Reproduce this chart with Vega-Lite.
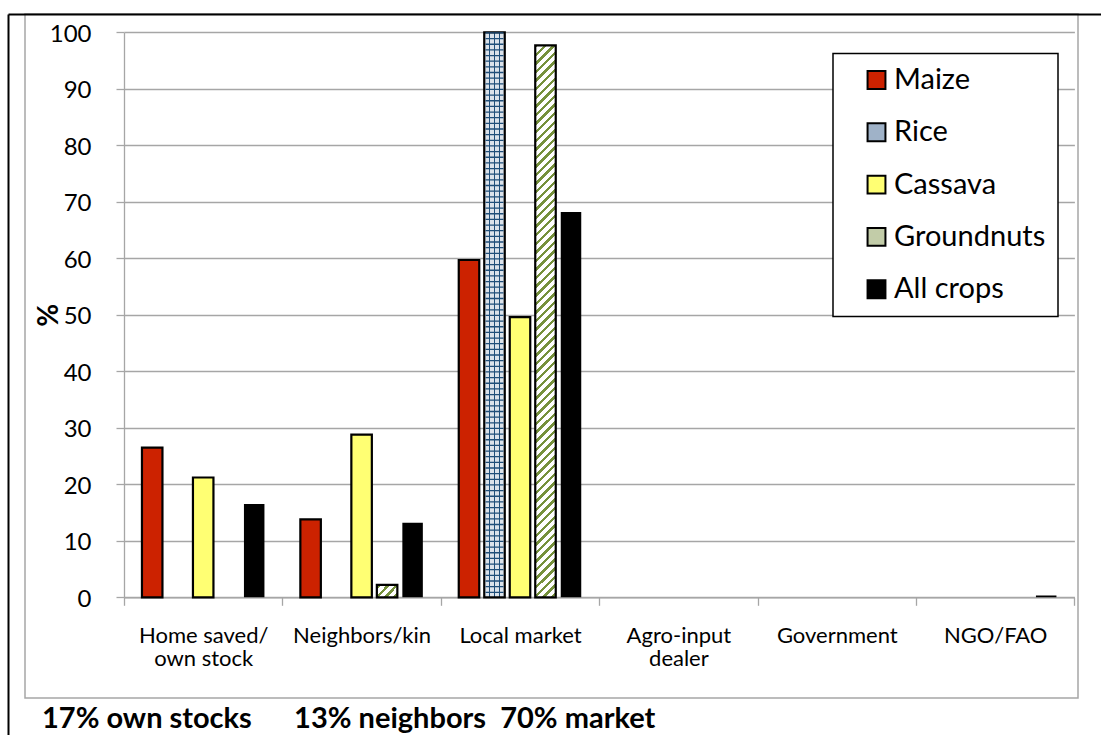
{
  "$schema": "https://vega.github.io/schema/vega-lite/v6.json",
  "width": 1053,
  "height": 684,
  "autosize": {"type": "none"},
  "padding": {"left": 25, "top": 14, "right": 23, "bottom": 37},
  "background": "white",
  "title": {
    "text": "17% own stocks\u00a0\u00a0\u00a0\u00a0\u00a0 13% neighbors\u00a0 70% market",
    "orient": "bottom",
    "anchor": "start",
    "frame": "group",
    "dx": 17,
    "offset": -33,
    "font": "Lato",
    "fontSize": 29,
    "fontWeight": "bold",
    "color": "black"
  },
  "data": {
    "values": [
      {"source": "Home saved/ own stock", "crop": "Maize", "pct": 26.5},
      {"source": "Home saved/ own stock", "crop": "Cassava", "pct": 21.2},
      {"source": "Home saved/ own stock", "crop": "All crops", "pct": 16.5},
      {"source": "Neighbors/kin", "crop": "Maize", "pct": 13.8},
      {"source": "Neighbors/kin", "crop": "Cassava", "pct": 28.8},
      {"source": "Neighbors/kin", "crop": "Groundnuts", "pct": 2.2},
      {"source": "Neighbors/kin", "crop": "All crops", "pct": 13.2},
      {"source": "Local market", "crop": "Maize", "pct": 59.7},
      {"source": "Local market", "crop": "Rice", "pct": 100},
      {"source": "Local market", "crop": "Cassava", "pct": 49.6},
      {"source": "Local market", "crop": "Groundnuts", "pct": 97.7},
      {"source": "Local market", "crop": "All crops", "pct": 68.2},
      {"source": "NGO/FAO", "crop": "All crops", "pct": 0.3}
    ]
  },
  "layer": [
    {
      "encoding": {
        "x": {
          "field": "source",
          "type": "nominal",
          "sort": null,
          "scale": {
            "domain": ["Home saved/ own stock", "Neighbors/kin", "Local market", "Agro-input dealer", "Government", "NGO/FAO"],
            "range": [99, 1049.4],
            "paddingInner": 0,
            "paddingOuter": 0
          },
          "axis": {
            "title": null,
            "offset": -100.7,
            "labelAngle": 0,
            "labelFont": "Lato",
            "labelFontSize": 22,
            "labelLineHeight": 23,
            "labelColor": "black",
            "labelPadding": 20,
            "labelLimit": 300,
            "tickBand": "extent",
            "tickSize": 8,
            "tickColor": "#a6a6a6",
            "tickWidth": 1.3,
            "domainColor": "#a6a6a6",
            "domainWidth": 1.3,
            "labelExpr": "datum.value === 'Home saved/ own stock' ? ['Home saved/', 'own stock'] : datum.value === 'Agro-input dealer' ? ['Agro-input', 'dealer'] : datum.label"
          }
        },
        "xOffset": {
          "field": "crop",
          "type": "nominal",
          "scale": {
            "domain": ["Maize", "Rice", "Cassava", "Groundnuts", "All crops"],
            "paddingInner": 0.196,
            "paddingOuter": 0.704
          }
        },
        "y": {
          "field": "pct",
          "type": "quantitative",
          "scale": {"domain": [0, 100], "range": [583.3, 18.3], "nice": false},
          "axis": {
            "title": "%",
            "titleFont": "Lato",
            "titleFontSize": 28,
            "titleFontWeight": "bold",
            "titleColor": "black",
            "titlePadding": -14,
            "offset": -99,
            "values": [0, 10, 20, 30, 40, 50, 60, 70, 80, 90, 100],
            "labelFont": "Lato",
            "labelFontSize": 24,
            "labelColor": "black",
            "labelPadding": 25,
            "labelOffset": 2,
            "tickSize": 8,
            "tickColor": "#a6a6a6",
            "tickWidth": 1.3,
            "domainColor": "#a6a6a6",
            "domainWidth": 1.3,
            "grid": true,
            "gridColor": "#a6a6a6",
            "gridWidth": 1.3
          }
        }
      },
      "layer": [
        {
          "mark": {"type": "bar", "strokeWidth": 2.2},
          "encoding": {
            "fill": {
              "field": "crop",
              "type": "nominal",
              "scale": {
                "domain": ["Maize", "Rice", "Cassava", "Groundnuts", "All crops"],
                "range": ["#cc2200", "#9fb2c8", "#ffff73", "#c2cca8", "#000000"]
              },
              "legend": {
                "title": null,
                "orient": "none",
                "legendX": 808,
                "legendY": 39.5,
                "symbolType": "square",
                "symbolSize": 320,
                "labelFont": "Lato",
                "labelFontSize": 29,
                "labelColor": "black",
                "labelOffset": 3,
                "labelExpr": "datum.label + '\u2003'",
                "rowPadding": 22.3,
                "padding": 12,
                "symbolOffset": 17,
                "strokeColor": "black",
                "fillColor": "white",
                "encoding": {
                  "symbols": {
                    "stroke": {"value": "black"},
                    "strokeWidth": {"value": 2}
                  }
                }
              },
              "condition": [
                {
                  "test": "datum.crop === 'Groundnuts' && datum.pct > 50",
                  "value": {"gradient": "linear", "x1": 0, "y1": 0, "x2": 0.0384, "y2": 1.0357, "stops": [
                    {"offset": 0, "color": "#76913c"}, {"offset": 0.006, "color": "#76913c"}, {"offset": 0.006, "color": "#ffffff"}, {"offset": 0.015, "color": "#ffffff"},
                    {"offset": 0.015, "color": "#76913c"}, {"offset": 0.021, "color": "#76913c"}, {"offset": 0.021, "color": "#ffffff"}, {"offset": 0.03, "color": "#ffffff"},
                    {"offset": 0.03, "color": "#76913c"}, {"offset": 0.036, "color": "#76913c"}, {"offset": 0.036, "color": "#ffffff"}, {"offset": 0.045, "color": "#ffffff"},
                    {"offset": 0.045, "color": "#76913c"}, {"offset": 0.051, "color": "#76913c"}, {"offset": 0.051, "color": "#ffffff"}, {"offset": 0.06, "color": "#ffffff"},
                    {"offset": 0.06, "color": "#76913c"}, {"offset": 0.066, "color": "#76913c"}, {"offset": 0.066, "color": "#ffffff"}, {"offset": 0.075, "color": "#ffffff"},
                    {"offset": 0.075, "color": "#76913c"}, {"offset": 0.081, "color": "#76913c"}, {"offset": 0.081, "color": "#ffffff"}, {"offset": 0.09, "color": "#ffffff"},
                    {"offset": 0.09, "color": "#76913c"}, {"offset": 0.096, "color": "#76913c"}, {"offset": 0.096, "color": "#ffffff"}, {"offset": 0.105, "color": "#ffffff"},
                    {"offset": 0.105, "color": "#76913c"}, {"offset": 0.111, "color": "#76913c"}, {"offset": 0.111, "color": "#ffffff"}, {"offset": 0.12, "color": "#ffffff"},
                    {"offset": 0.12, "color": "#76913c"}, {"offset": 0.126, "color": "#76913c"}, {"offset": 0.126, "color": "#ffffff"}, {"offset": 0.135, "color": "#ffffff"},
                    {"offset": 0.135, "color": "#76913c"}, {"offset": 0.141, "color": "#76913c"}, {"offset": 0.141, "color": "#ffffff"}, {"offset": 0.15, "color": "#ffffff"},
                    {"offset": 0.15, "color": "#76913c"}, {"offset": 0.156, "color": "#76913c"}, {"offset": 0.156, "color": "#ffffff"}, {"offset": 0.165, "color": "#ffffff"},
                    {"offset": 0.165, "color": "#76913c"}, {"offset": 0.171, "color": "#76913c"}, {"offset": 0.171, "color": "#ffffff"}, {"offset": 0.18, "color": "#ffffff"},
                    {"offset": 0.18, "color": "#76913c"}, {"offset": 0.186, "color": "#76913c"}, {"offset": 0.186, "color": "#ffffff"}, {"offset": 0.195, "color": "#ffffff"},
                    {"offset": 0.195, "color": "#76913c"}, {"offset": 0.201, "color": "#76913c"}, {"offset": 0.201, "color": "#ffffff"}, {"offset": 0.21, "color": "#ffffff"},
                    {"offset": 0.21, "color": "#76913c"}, {"offset": 0.216, "color": "#76913c"}, {"offset": 0.216, "color": "#ffffff"}, {"offset": 0.225, "color": "#ffffff"},
                    {"offset": 0.225, "color": "#76913c"}, {"offset": 0.231, "color": "#76913c"}, {"offset": 0.231, "color": "#ffffff"}, {"offset": 0.24, "color": "#ffffff"},
                    {"offset": 0.24, "color": "#76913c"}, {"offset": 0.246, "color": "#76913c"}, {"offset": 0.246, "color": "#ffffff"}, {"offset": 0.255, "color": "#ffffff"},
                    {"offset": 0.255, "color": "#76913c"}, {"offset": 0.261, "color": "#76913c"}, {"offset": 0.261, "color": "#ffffff"}, {"offset": 0.27, "color": "#ffffff"},
                    {"offset": 0.27, "color": "#76913c"}, {"offset": 0.276, "color": "#76913c"}, {"offset": 0.276, "color": "#ffffff"}, {"offset": 0.285, "color": "#ffffff"},
                    {"offset": 0.285, "color": "#76913c"}, {"offset": 0.291, "color": "#76913c"}, {"offset": 0.291, "color": "#ffffff"}, {"offset": 0.3, "color": "#ffffff"},
                    {"offset": 0.3, "color": "#76913c"}, {"offset": 0.306, "color": "#76913c"}, {"offset": 0.306, "color": "#ffffff"}, {"offset": 0.315, "color": "#ffffff"},
                    {"offset": 0.315, "color": "#76913c"}, {"offset": 0.321, "color": "#76913c"}, {"offset": 0.321, "color": "#ffffff"}, {"offset": 0.33, "color": "#ffffff"},
                    {"offset": 0.33, "color": "#76913c"}, {"offset": 0.336, "color": "#76913c"}, {"offset": 0.336, "color": "#ffffff"}, {"offset": 0.345, "color": "#ffffff"},
                    {"offset": 0.345, "color": "#76913c"}, {"offset": 0.351, "color": "#76913c"}, {"offset": 0.351, "color": "#ffffff"}, {"offset": 0.36, "color": "#ffffff"},
                    {"offset": 0.36, "color": "#76913c"}, {"offset": 0.366, "color": "#76913c"}, {"offset": 0.366, "color": "#ffffff"}, {"offset": 0.375, "color": "#ffffff"},
                    {"offset": 0.375, "color": "#76913c"}, {"offset": 0.381, "color": "#76913c"}, {"offset": 0.381, "color": "#ffffff"}, {"offset": 0.39, "color": "#ffffff"},
                    {"offset": 0.39, "color": "#76913c"}, {"offset": 0.396, "color": "#76913c"}, {"offset": 0.396, "color": "#ffffff"}, {"offset": 0.405, "color": "#ffffff"},
                    {"offset": 0.405, "color": "#76913c"}, {"offset": 0.411, "color": "#76913c"}, {"offset": 0.411, "color": "#ffffff"}, {"offset": 0.42, "color": "#ffffff"},
                    {"offset": 0.42, "color": "#76913c"}, {"offset": 0.426, "color": "#76913c"}, {"offset": 0.426, "color": "#ffffff"}, {"offset": 0.435, "color": "#ffffff"},
                    {"offset": 0.435, "color": "#76913c"}, {"offset": 0.441, "color": "#76913c"}, {"offset": 0.441, "color": "#ffffff"}, {"offset": 0.45, "color": "#ffffff"},
                    {"offset": 0.45, "color": "#76913c"}, {"offset": 0.456, "color": "#76913c"}, {"offset": 0.456, "color": "#ffffff"}, {"offset": 0.465, "color": "#ffffff"},
                    {"offset": 0.465, "color": "#76913c"}, {"offset": 0.471, "color": "#76913c"}, {"offset": 0.471, "color": "#ffffff"}, {"offset": 0.48, "color": "#ffffff"},
                    {"offset": 0.48, "color": "#76913c"}, {"offset": 0.486, "color": "#76913c"}, {"offset": 0.486, "color": "#ffffff"}, {"offset": 0.495, "color": "#ffffff"},
                    {"offset": 0.495, "color": "#76913c"}, {"offset": 0.501, "color": "#76913c"}, {"offset": 0.501, "color": "#ffffff"}, {"offset": 0.51, "color": "#ffffff"},
                    {"offset": 0.51, "color": "#76913c"}, {"offset": 0.516, "color": "#76913c"}, {"offset": 0.516, "color": "#ffffff"}, {"offset": 0.525, "color": "#ffffff"},
                    {"offset": 0.525, "color": "#76913c"}, {"offset": 0.531, "color": "#76913c"}, {"offset": 0.531, "color": "#ffffff"}, {"offset": 0.54, "color": "#ffffff"},
                    {"offset": 0.54, "color": "#76913c"}, {"offset": 0.546, "color": "#76913c"}, {"offset": 0.546, "color": "#ffffff"}, {"offset": 0.555, "color": "#ffffff"},
                    {"offset": 0.555, "color": "#76913c"}, {"offset": 0.561, "color": "#76913c"}, {"offset": 0.561, "color": "#ffffff"}, {"offset": 0.57, "color": "#ffffff"},
                    {"offset": 0.57, "color": "#76913c"}, {"offset": 0.576, "color": "#76913c"}, {"offset": 0.576, "color": "#ffffff"}, {"offset": 0.585, "color": "#ffffff"},
                    {"offset": 0.585, "color": "#76913c"}, {"offset": 0.591, "color": "#76913c"}, {"offset": 0.591, "color": "#ffffff"}, {"offset": 0.6, "color": "#ffffff"},
                    {"offset": 0.6, "color": "#76913c"}, {"offset": 0.606, "color": "#76913c"}, {"offset": 0.606, "color": "#ffffff"}, {"offset": 0.615, "color": "#ffffff"},
                    {"offset": 0.615, "color": "#76913c"}, {"offset": 0.621, "color": "#76913c"}, {"offset": 0.621, "color": "#ffffff"}, {"offset": 0.63, "color": "#ffffff"},
                    {"offset": 0.63, "color": "#76913c"}, {"offset": 0.636, "color": "#76913c"}, {"offset": 0.636, "color": "#ffffff"}, {"offset": 0.645, "color": "#ffffff"},
                    {"offset": 0.645, "color": "#76913c"}, {"offset": 0.651, "color": "#76913c"}, {"offset": 0.651, "color": "#ffffff"}, {"offset": 0.66, "color": "#ffffff"},
                    {"offset": 0.66, "color": "#76913c"}, {"offset": 0.666, "color": "#76913c"}, {"offset": 0.666, "color": "#ffffff"}, {"offset": 0.675, "color": "#ffffff"},
                    {"offset": 0.675, "color": "#76913c"}, {"offset": 0.681, "color": "#76913c"}, {"offset": 0.681, "color": "#ffffff"}, {"offset": 0.69, "color": "#ffffff"},
                    {"offset": 0.69, "color": "#76913c"}, {"offset": 0.696, "color": "#76913c"}, {"offset": 0.696, "color": "#ffffff"}, {"offset": 0.705, "color": "#ffffff"},
                    {"offset": 0.705, "color": "#76913c"}, {"offset": 0.711, "color": "#76913c"}, {"offset": 0.711, "color": "#ffffff"}, {"offset": 0.72, "color": "#ffffff"},
                    {"offset": 0.72, "color": "#76913c"}, {"offset": 0.726, "color": "#76913c"}, {"offset": 0.726, "color": "#ffffff"}, {"offset": 0.735, "color": "#ffffff"},
                    {"offset": 0.735, "color": "#76913c"}, {"offset": 0.741, "color": "#76913c"}, {"offset": 0.741, "color": "#ffffff"}, {"offset": 0.75, "color": "#ffffff"},
                    {"offset": 0.75, "color": "#76913c"}, {"offset": 0.756, "color": "#76913c"}, {"offset": 0.756, "color": "#ffffff"}, {"offset": 0.765, "color": "#ffffff"},
                    {"offset": 0.765, "color": "#76913c"}, {"offset": 0.771, "color": "#76913c"}, {"offset": 0.771, "color": "#ffffff"}, {"offset": 0.78, "color": "#ffffff"},
                    {"offset": 0.78, "color": "#76913c"}, {"offset": 0.786, "color": "#76913c"}, {"offset": 0.786, "color": "#ffffff"}, {"offset": 0.795, "color": "#ffffff"},
                    {"offset": 0.795, "color": "#76913c"}, {"offset": 0.801, "color": "#76913c"}, {"offset": 0.801, "color": "#ffffff"}, {"offset": 0.81, "color": "#ffffff"},
                    {"offset": 0.81, "color": "#76913c"}, {"offset": 0.816, "color": "#76913c"}, {"offset": 0.816, "color": "#ffffff"}, {"offset": 0.825, "color": "#ffffff"},
                    {"offset": 0.825, "color": "#76913c"}, {"offset": 0.831, "color": "#76913c"}, {"offset": 0.831, "color": "#ffffff"}, {"offset": 0.84, "color": "#ffffff"},
                    {"offset": 0.84, "color": "#76913c"}, {"offset": 0.846, "color": "#76913c"}, {"offset": 0.846, "color": "#ffffff"}, {"offset": 0.855, "color": "#ffffff"},
                    {"offset": 0.855, "color": "#76913c"}, {"offset": 0.861, "color": "#76913c"}, {"offset": 0.861, "color": "#ffffff"}, {"offset": 0.87, "color": "#ffffff"},
                    {"offset": 0.87, "color": "#76913c"}, {"offset": 0.876, "color": "#76913c"}, {"offset": 0.876, "color": "#ffffff"}, {"offset": 0.885, "color": "#ffffff"},
                    {"offset": 0.885, "color": "#76913c"}, {"offset": 0.891, "color": "#76913c"}, {"offset": 0.891, "color": "#ffffff"}, {"offset": 0.9, "color": "#ffffff"},
                    {"offset": 0.9, "color": "#76913c"}, {"offset": 0.906, "color": "#76913c"}, {"offset": 0.906, "color": "#ffffff"}, {"offset": 0.915, "color": "#ffffff"},
                    {"offset": 0.915, "color": "#76913c"}, {"offset": 0.921, "color": "#76913c"}, {"offset": 0.921, "color": "#ffffff"}, {"offset": 0.93, "color": "#ffffff"},
                    {"offset": 0.93, "color": "#76913c"}, {"offset": 0.936, "color": "#76913c"}, {"offset": 0.936, "color": "#ffffff"}, {"offset": 0.945, "color": "#ffffff"},
                    {"offset": 0.945, "color": "#76913c"}, {"offset": 0.951, "color": "#76913c"}, {"offset": 0.951, "color": "#ffffff"}, {"offset": 0.96, "color": "#ffffff"},
                    {"offset": 0.96, "color": "#76913c"}, {"offset": 0.966, "color": "#76913c"}, {"offset": 0.966, "color": "#ffffff"}, {"offset": 0.975, "color": "#ffffff"},
                    {"offset": 0.975, "color": "#76913c"}, {"offset": 0.981, "color": "#76913c"}, {"offset": 0.981, "color": "#ffffff"}, {"offset": 0.99, "color": "#ffffff"},
                    {"offset": 0.99, "color": "#76913c"}, {"offset": 0.996, "color": "#76913c"}, {"offset": 0.996, "color": "#ffffff"}, {"offset": 1, "color": "#ffffff"}
                  ]}
                },
                {
                  "test": "datum.crop === 'Groundnuts'",
                  "value": {"gradient": "linear", "x1": 0, "y1": 0, "x2": 1.18, "y2": 0.69, "stops": [
                    {"offset": 0, "color": "#ffffff"}, {"offset": 0.05, "color": "#ffffff"},
                    {"offset": 0.05, "color": "#76913c"}, {"offset": 0.155, "color": "#76913c"},
                    {"offset": 0.155, "color": "#ffffff"}, {"offset": 0.313, "color": "#ffffff"},
                    {"offset": 0.313, "color": "#76913c"}, {"offset": 0.418, "color": "#76913c"},
                    {"offset": 0.418, "color": "#ffffff"}, {"offset": 0.576, "color": "#ffffff"},
                    {"offset": 0.576, "color": "#76913c"}, {"offset": 0.681, "color": "#76913c"},
                    {"offset": 0.681, "color": "#ffffff"}, {"offset": 0.839, "color": "#ffffff"},
                    {"offset": 0.839, "color": "#76913c"}, {"offset": 0.944, "color": "#76913c"},
                    {"offset": 0.944, "color": "#ffffff"}, {"offset": 1, "color": "#ffffff"}
                  ]}
                },
                {
                  "test": "datum.crop === 'Rice'",
                  "value": {"gradient": "linear", "x1": 0, "y1": 0, "x2": 1, "y2": 0, "stops": [
                    {"offset": 0, "color": "#dbe2ea"}, {"offset": 0.215, "color": "#dbe2ea"},
                    {"offset": 0.215, "color": "#1f4e79"}, {"offset": 0.285, "color": "#1f4e79"},
                    {"offset": 0.285, "color": "#dbe2ea"}, {"offset": 0.465, "color": "#dbe2ea"},
                    {"offset": 0.465, "color": "#1f4e79"}, {"offset": 0.535, "color": "#1f4e79"},
                    {"offset": 0.535, "color": "#dbe2ea"}, {"offset": 0.715, "color": "#dbe2ea"},
                    {"offset": 0.715, "color": "#1f4e79"}, {"offset": 0.785, "color": "#1f4e79"},
                    {"offset": 0.785, "color": "#dbe2ea"}, {"offset": 1, "color": "#dbe2ea"}
                  ]}
                }
              ]
            },
            "stroke": {
              "condition": {"test": "datum.crop === 'All crops'", "value": null},
              "value": "black"
            }
          }
        },
        {
          "transform": [{"filter": "datum.crop === 'Rice'"}],
          "mark": {"type": "rule", "stroke": "#1f4e79", "strokeWidth": 18, "strokeDash": [1.3, 4.35]},
          "encoding": {
            "y2": {"datum": 0}
          }
        }
      ]
    },
    {
      "data": {"values": [{"frame": "page"}]},
      "mark": {"type": "point", "opacity": 0},
      "encoding": {
        "x": {
          "datum": 0,
          "type": "quantitative",
          "scale": {"domain": [0, 1], "range": [-17, 1076]},
          "axis": {"orient": "top", "offset": 0, "domainColor": "black", "domainWidth": 2, "ticks": false, "labels": false, "grid": false, "title": null}
        },
        "y": {
          "datum": 0,
          "type": "quantitative",
          "scale": {"domain": [0, 1], "range": [721, 0]},
          "axis": {"orient": "left", "offset": 17, "domainColor": "black", "domainWidth": 2, "ticks": false, "labels": false, "grid": false, "title": null}
        }
      }
    }
  ],
  "resolve": {
    "scale": {"x": "independent", "y": "independent"},
    "axis": {"x": "independent", "y": "independent"}
  },
  "config": {
    "view": {"stroke": "#a6a6a6", "strokeWidth": 1.5},
    "legend": {"strokeWidth": 1.5},
    "font": "Lato"
  }
}
